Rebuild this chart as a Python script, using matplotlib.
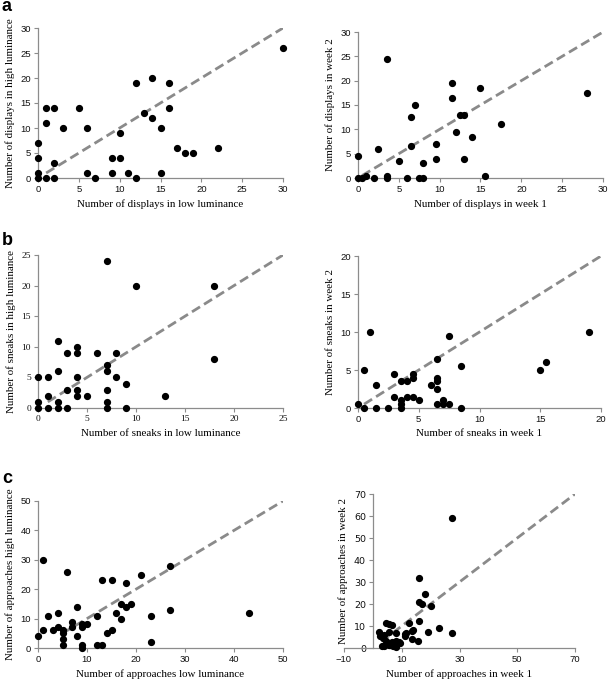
import numpy as np
import matplotlib
matplotlib.use('Agg')
import matplotlib.pyplot as plt

# panel a - displays
disp_low = [0, 0, 0, 0, 1, 1, 1, 2, 2, 2, 3, 5, 6, 6, 7, 9, 9, 10, 10, 11, 12, 12,
            13, 14, 14, 15, 15, 16, 16, 17, 18, 19, 22, 30]
disp_high = [7, 4, 1, 0, 14, 11, 0, 14, 3, 0, 10, 14, 10, 1, 0, 4, 1, 9, 4, 1, 19, 0,
             13, 20, 12, 10, 1, 19, 14, 6, 5, 5, 6, 26]
disp_wk1 = [0, 0, 0.5, 1, 2, 2.5, 3.5, 3.5, 3.5, 5, 6, 6.5, 6.5, 7, 7.5, 8, 8, 9.5, 9.5,
            11.5, 11.5, 12, 12.5, 13, 13, 14, 15, 15.5, 17.5, 28]
disp_wk2 = [4.5, 0, 0, 0.5, 0, 6, 24.5, 0.5, 0, 3.5, 0, 6.5, 12.5, 15, 0, 0, 3, 7, 4,
            19.5, 16.5, 9.5, 13, 13, 4, 8.5, 18.5, 0.5, 11, 17.5]

# panel b - sneaks
sneak_low = [0, 0, 0, 1, 1, 1, 2, 2, 2, 2, 3, 3, 3, 4, 4, 4, 4, 4, 5, 6, 7, 7, 7, 7, 7,
             7, 8, 8, 9, 9, 10, 13, 18, 18]
sneak_high = [5, 1, 0, 5, 2, 0, 11, 6, 1, 0, 9, 3, 0, 10, 9, 5, 3, 2, 2, 9, 24, 7, 6, 3,
              1, 0, 9, 5, 4, 0, 20, 2, 20, 8]
sneak_wk1 = [0, 0.5, 0.5, 1, 1.5, 1.5, 2.5, 3, 3, 3.5, 3.5, 3.5, 3.5, 4, 4, 4.5, 4.5,
             4.5, 5, 6, 6.5, 6.5, 6.5, 6.5, 6.5, 7, 7, 7.5, 7.5, 8.5, 8.5, 15, 15.5, 19]
sneak_wk2 = [0.5, 5, 0, 10, 3, 0, 0, 4.5, 1.5, 3.5, 1, 0.5, 0, 3.5, 1.5, 4.5, 4, 1.5,
             1, 3, 6.5, 4, 3.5, 2.5, 0.5, 1, 0.5, 9.5, 0.5, 5.5, 0, 5, 6, 10]

# panel c - approaches
appr_low = [0, 1, 1, 2, 3, 4, 4, 5, 5, 5, 5, 6, 7, 7, 8, 8, 9, 9, 9, 9, 10, 12, 12, 13,
            13, 14, 15, 15, 16, 17, 17, 18, 18, 19, 21, 23, 23, 27, 27, 43]
appr_high = [4, 30, 6, 11, 6, 12, 7, 6, 5, 3, 1, 26, 9, 7, 14, 4, 8, 7, 1, 0, 8, 11, 1,
             23, 1, 5, 23, 6, 12, 15, 10, 22, 14, 15, 25, 11, 2, 28, 13, 12]
appr_wk1 = [27.5, 16, 18, 16, 17, 20, 16, 12.5, 14, 23, 19, 27.5, 15.5, 13.5, 11, 11.5,
            11, 2, 4.5, 5.5, 6.5, 2.5, 3.5, 4, 5.5, 8, 4.5, 6.5, 8, 9, 4, 5.5, 7, 8, 9.5,
            7, 6, 13.5, 5, 3]
appr_wk2 = [59, 32, 24.5, 21, 20, 19, 12.5, 11.5, 8.2, 9, 7.5, 7, 3, 4, 6.4, 6.7, 5.3,
            7.5, 11.2, 11, 10.6, 5.6, 4.4, 6.1, 7.3, 6.6, 3, 2.7, 3, 2.7, 1, 1.5, 0.8,
            0.3, 2.4, 1.8, 1.2, 7.6, 2.4, 1]

W, H = 609, 681
fig = plt.figure(figsize=(W / 100, H / 100), dpi=100)

SERIF = 'Liberation Serif'
SANS = 'Liberation Sans'


def add_panel(box, x, y, lim, ticks, line0, xlab, ylab, tickfont=SANS):
    left, top, right, bottom = box
    ax = fig.add_axes([left / W, 1 - bottom / H, (right - left) / W, (bottom - top) / H])
    xl, yl = lim
    # 1:1 reference line
    ax.plot([line0, xl[1]], [line0, yl[1]], color='#8a8a8a', lw=2.0,
            dashes=(3.4, 1.7), zorder=1)
    ax.plot(x, y, 'o', color='black', ms=4.2, zorder=3, clip_on=False)
    ax.set_xlim(*xl)
    ax.set_ylim(*yl)
    ax.set_xticks(ticks[0])
    ax.set_yticks(ticks[1])
    for s in ['top', 'right']:
        ax.spines[s].set_visible(False)
    for s in ['left', 'bottom']:
        ax.spines[s].set_color('#8c8c8c')
        ax.spines[s].set_linewidth(0.9)
    ax.tick_params(colors='#8c8c8c', length=3, width=0.8, labelcolor='#111111',
                   labelsize=6.8, pad=2)
    for lab in ax.get_xticklabels() + ax.get_yticklabels():
        lab.set_fontfamily(tickfont)
    ax.set_xlabel(xlab, family=SERIF, fontsize=7.9, labelpad=4)
    ax.set_ylabel(ylab, family=SERIF, fontsize=7.9, labelpad=4)
    return ax


add_panel((38, 28, 283, 178), disp_low, disp_high, ((0, 30), (0, 30)),
          (range(0, 31, 5), range(0, 31, 5)), 1,
          'Number of displays in low luminance', 'Number of displays in high luminance')
add_panel((358, 32, 603, 178), disp_wk1, disp_wk2, ((0, 30), (0, 30)),
          (range(0, 31, 5), range(0, 31, 5)), 0.5,
          'Number of displays in week 1', 'Number of displays in week 2')
add_panel((38, 255, 283, 408), sneak_low, sneak_high, ((0, 25), (0, 25)),
          (range(0, 26, 5), range(0, 26, 5)), 1,
          'Number of sneaks in low luminance', 'Number of sneaks in high luminance',
          tickfont=SERIF)
add_panel((358, 256, 601, 408), sneak_wk1, sneak_wk2, ((0, 20), (0, 20)),
          (range(0, 21, 5), range(0, 21, 5)), 0.5,
          'Number of sneaks in week 1', 'Number of sneaks in week 2')
add_panel((38, 501, 283, 648), appr_low, appr_high, ((0, 50), (0, 50)),
          (range(0, 51, 10), range(0, 51, 10)), 5,
          'Number of approaches low luminance', 'Number of approaches high luminance')
ax = add_panel((344, 494, 575, 648), appr_wk1, appr_wk2, ((-10, 70), (0, 70)),
               (range(-10, 71, 20), range(0, 71, 10)), 3,
               'Number of approaches in week 1', 'Number of approaches in week 2')
ax.spines['left'].set_position(('data', 0))

for lab, ypx in [('a', 11), ('b', 245), ('c', 483)]:
    fig.text(2 / W, 1 - ypx / H, lab, fontsize=13, fontweight='bold',
             family=SANS, va='baseline', ha='left')

fig.savefig('out.png', dpi=100)
